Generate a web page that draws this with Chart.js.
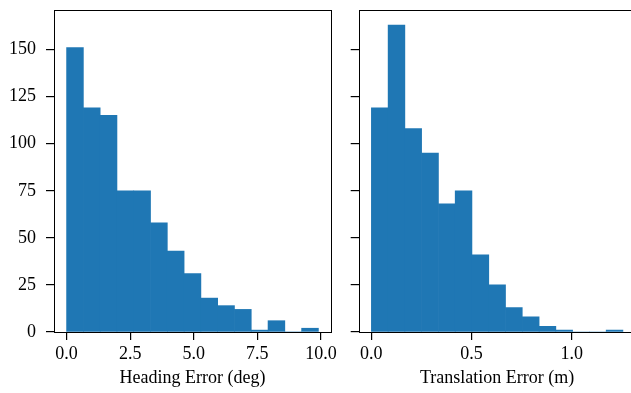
<!DOCTYPE html>
<html>
<head>
<meta charset="utf-8">
<script src="https://cdn.jsdelivr.net/npm/chart.js@4"></script>
<style>
  html, body { margin: 0; padding: 0; background: #fff; }
  body { width: 631px; height: 393px; overflow: hidden; position: relative; }
  #left { position: absolute; left: 0; top: 0; }
  #right { position: absolute; left: 340px; top: 0; }
</style>
</head>
<body>
<canvas id="left" width="340" height="393"></canvas>
<canvas id="right" width="300" height="393"></canvas>
<script>
// histogram bin edges and counts
const headingEdges = [0, 0.66, 1.32, 1.98, 2.64, 3.30, 3.96, 4.62, 5.28, 5.94, 6.60, 7.26, 7.92, 8.58, 9.24, 9.90];
const headingCounts = [151, 119, 115, 75, 75, 58, 43, 31, 18, 14, 12, 1, 6, 0, 2];
const translationEdges = [0, 0.084, 0.167, 0.251, 0.335, 0.418, 0.502, 0.586, 0.669, 0.753, 0.837, 0.920, 1.004, 1.088, 1.171, 1.255];
const translationCounts = [119, 163, 108, 95, 68, 75, 41, 25, 13, 8, 3, 1, 0, 0, 1];

const countTicks = [0, 25, 50, 75, 100, 125, 150];
const headingTicks = [0, 2.5, 5, 7.5, 10];
const translationTicks = [0, 0.5, 1.0];

const FONT = { family: '"Liberation Serif", "Times New Roman", serif', size: 18 };
const BLUE = '#1f77b4';

// draw the full box round the plot area like matplotlib spines
const boxPlugin = {
    id: 'box',
    afterDraw(chart) {
        const { ctx, chartArea: a } = chart;
        ctx.save();
        ctx.strokeStyle = '#000';
        ctx.lineWidth = 1;
        ctx.strokeRect(Math.round(a.left) + 0.5, Math.round(a.top) + 0.5, Math.round(a.right - a.left), Math.round(a.bottom - a.top));
        ctx.restore();
    }
};

function toPoints(edges, counts) {
    return counts.map((c, i) => ({ x: (edges[i] + edges[i + 1]) / 2, y: c }));
}

function makeHist(canvas, edges, counts, xTicks, xMin, xMax, title, yWidth, showYLabels, pad) {
    return new Chart(canvas, {
        type: 'bar',
        data: {
            datasets: [{
                data: toPoints(edges, counts),
                backgroundColor: BLUE,
                borderWidth: 0,
                barPercentage: 1.0,
                categoryPercentage: 1.0,
                grouped: false
            }]
        },
        options: {
            responsive: false,
            animation: false,
            devicePixelRatio: 1,
            layout: { padding: pad },
            plugins: { legend: { display: false }, tooltip: { enabled: false } },
            scales: {
                x: {
                    type: 'linear',
                    min: xMin,
                    max: xMax,
                    offset: false,
                    afterBuildTicks: s => { s.ticks = xTicks.map(v => ({ value: v })); },
                    ticks: {
                        callback: v => v.toFixed(1),
                        color: '#000',
                        font: FONT,
                        padding: 3,
                        maxRotation: 0,
                        autoSkip: false
                    },
                    grid: { offset: false, drawOnChartArea: false, drawTicks: true, tickLength: 8, color: '#000', lineWidth: 1.2 },
                    border: { display: false },
                    title: { display: true, text: title, color: '#000', font: FONT, padding: { top: 0, bottom: 4 } },
                    afterFit: s => { s.height = 61; s.paddingLeft = 0; s.paddingRight = 0; }
                },
                y: {
                    min: 0,
                    max: 171,
                    afterBuildTicks: s => { s.ticks = countTicks.map(v => ({ value: v })); },
                    ticks: {
                        display: showYLabels,
                        color: '#000',
                        font: FONT,
                        padding: 10
                    },
                    grid: { offset: false, drawOnChartArea: false, drawTicks: true, tickLength: 8, color: '#000', lineWidth: 1.2 },
                    border: { display: false },
                    afterFit: s => { s.width = yWidth; s.paddingTop = 0; s.paddingBottom = 0; }
                }
            }
        },
        plugins: [boxPlugin]
    });
}

makeHist(document.getElementById('left'), headingEdges, headingCounts, headingTicks,
    -0.495, 10.395, 'Heading Error (deg)', 54, true, { top: 10, right: 9, bottom: 0, left: 0 });
makeHist(document.getElementById('right'), translationEdges, translationCounts, translationTicks,
    -0.063, 1.318, 'Translation Error (m)', 18.7, false, { top: 10, right: 4.4, bottom: 0, left: 0 });
</script>
</body>
</html>
